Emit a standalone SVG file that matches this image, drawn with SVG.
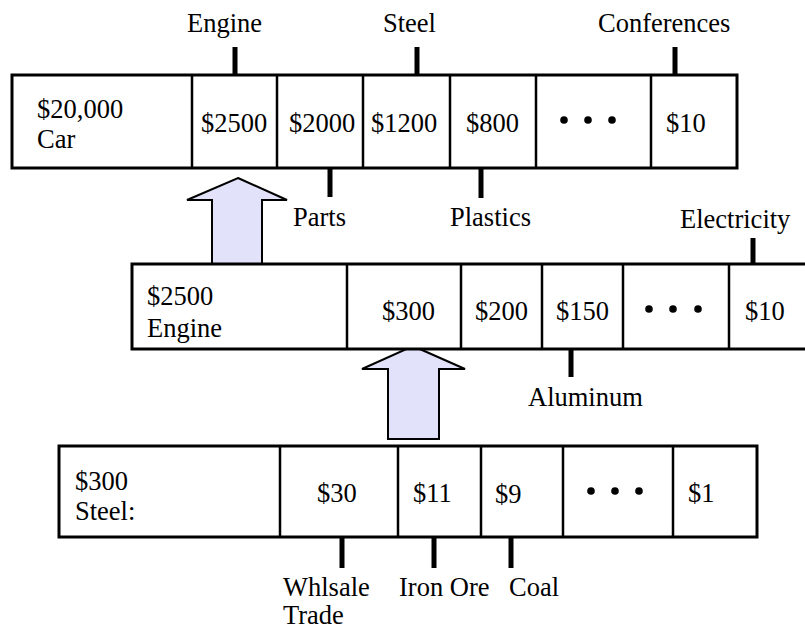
<svg xmlns="http://www.w3.org/2000/svg" width="805" height="631" viewBox="0 0 805 631">
<style>
text{font-family:"Liberation Serif","Times New Roman",serif;font-size:26.5px;fill:#000}
.box{fill:#fff;stroke:#000;stroke-width:3}
.div{stroke:#000;stroke-width:2.5}
.tick{stroke:#000;stroke-width:5}
.arrow{fill:#e2e2fa;stroke:#000;stroke-width:2;stroke-linejoin:miter}
.dot{fill:#000}
</style>
<rect width="805" height="631" fill="#fff"/>
<g id="connectors">
<line class="tick" x1="235" y1="47" x2="235" y2="75"/>
<line class="tick" x1="417" y1="47" x2="417" y2="75"/>
<line class="tick" x1="675" y1="47" x2="675" y2="75"/>
<line class="tick" x1="330" y1="168" x2="330" y2="197"/>
<line class="tick" x1="481" y1="168" x2="481" y2="198"/>
<line class="tick" x1="753" y1="238" x2="753" y2="264"/>
<line class="tick" x1="571" y1="349" x2="571" y2="377"/>
<line class="tick" x1="342" y1="537" x2="342" y2="568"/>
<line class="tick" x1="434" y1="537" x2="434" y2="568"/>
<line class="tick" x1="511" y1="537" x2="511" y2="568"/>
<polygon class="arrow" points="238,178 287,200 262,200 262,264 212,264 212,200 187,200"/>
<polygon class="arrow" points="413,346 465,369 439,369 439,439 388,439 388,369 362,369"/>
</g>
<g id="car-row">
<rect class="box" x="12" y="75" width="725" height="93"/>
<line class="div" x1="192" y1="75" x2="192" y2="168"/>
<line class="div" x1="277" y1="75" x2="277" y2="168"/>
<line class="div" x1="363" y1="75" x2="363" y2="168"/>
<line class="div" x1="450" y1="75" x2="450" y2="168"/>
<line class="div" x1="536" y1="75" x2="536" y2="168"/>
<line class="div" x1="651" y1="75" x2="651" y2="168"/>
<text x="37" y="118">$20,000</text>
<text x="37" y="148">Car</text>
<text x="201" y="132">$2500</text>
<text x="289" y="132">$2000</text>
<text x="371" y="132">$1200</text>
<text x="466" y="132">$800</text>
<circle class="dot" cx="564" cy="120" r="3.8"/>
<circle class="dot" cx="588" cy="120" r="3.8"/>
<circle class="dot" cx="612" cy="120" r="3.8"/>
<text x="666" y="132">$10</text>
</g>
<g id="engine-row">
<rect class="box" x="132" y="264" width="690" height="85"/>
<line class="div" x1="347" y1="264" x2="347" y2="349"/>
<line class="div" x1="461" y1="264" x2="461" y2="349"/>
<line class="div" x1="542" y1="264" x2="542" y2="349"/>
<line class="div" x1="623" y1="264" x2="623" y2="349"/>
<line class="div" x1="729" y1="264" x2="729" y2="349"/>
<text x="147" y="305">$2500</text>
<text x="147" y="337">Engine</text>
<text x="382" y="320">$300</text>
<text x="475" y="320">$200</text>
<text x="556" y="320">$150</text>
<circle class="dot" cx="649" cy="309" r="3.8"/>
<circle class="dot" cx="673" cy="309" r="3.8"/>
<circle class="dot" cx="698" cy="309" r="3.8"/>
<text x="745" y="320">$10</text>
</g>
<g id="steel-row">
<rect class="box" x="59" y="446" width="698" height="91"/>
<line class="div" x1="280" y1="446" x2="280" y2="537"/>
<line class="div" x1="398" y1="446" x2="398" y2="537"/>
<line class="div" x1="481" y1="446" x2="481" y2="537"/>
<line class="div" x1="563" y1="446" x2="563" y2="537"/>
<line class="div" x1="673" y1="446" x2="673" y2="537"/>
<text x="75" y="490">$300</text>
<text x="75" y="520">Steel:</text>
<text x="317" y="502">$30</text>
<text x="413" y="502">$11</text>
<text x="495" y="503">$9</text>
<circle class="dot" cx="591" cy="491" r="3.8"/>
<circle class="dot" cx="615" cy="491" r="3.8"/>
<circle class="dot" cx="639" cy="491" r="3.8"/>
<text x="688" y="502">$1</text>
</g>
<g id="labels">
<text x="187" y="32">Engine</text>
<text x="383" y="32">Steel</text>
<text x="598" y="32">Conferences</text>
<text x="293" y="226">Parts</text>
<text x="450" y="226">Plastics</text>
<text x="680" y="228">Electricity</text>
<text x="528" y="406">Aluminum</text>
<text x="283" y="596">Whlsale</text>
<text x="283" y="624">Trade</text>
<text x="399" y="596">Iron Ore</text>
<text x="509" y="596">Coal</text>
</g>
</svg>
